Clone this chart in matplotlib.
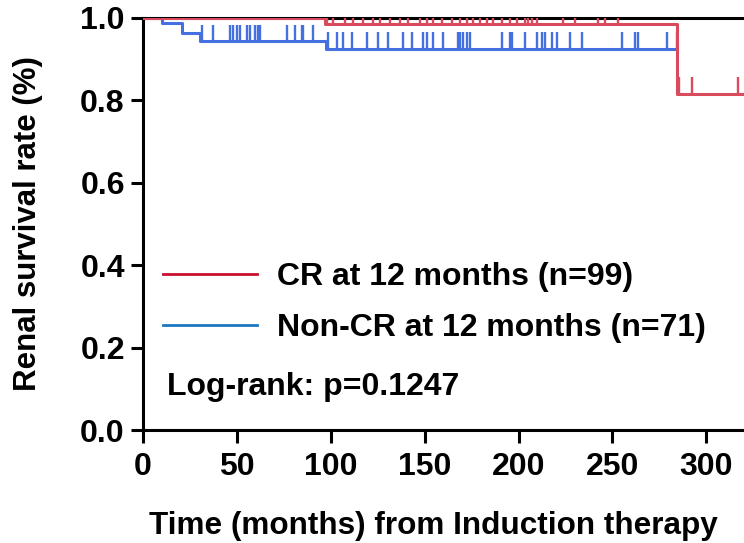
import matplotlib.pyplot as plt
from matplotlib.lines import Line2D

plt.rcParams['font.family'] = ['Liberation Sans', 'DejaVu Sans']
plt.rcParams['font.weight'] = 'bold'

# step curves: time where each level starts, and the survival level
cr_times = [0, 97, 284.5]
cr_levels = [1.0, 0.985, 0.816]
cr_end = 320

noncr_times = [0, 10, 21, 30.5, 97.5]
noncr_levels = [1.0, 0.988, 0.963, 0.944, 0.925]
noncr_end = 284.5

# censored observations (months)
cr_censor = [98, 101.2, 107.6, 111.9, 117.2, 122.5, 126.3, 131.6, 136.9, 141.2,
             147.6, 151.3, 154.5, 159.3, 164.6, 168.9, 172.6, 175.8, 179.5, 183.3,
             186.5, 191.3, 195.5, 199.3, 203.5, 205.1, 207.2, 209.9, 223.8, 230.2,
             242.4, 246.1, 253.1, 285.5, 292.5, 317]
noncr_censor = [31.4, 37.3, 46.4, 47.9, 50.1, 51.7, 55.4, 57.0, 59.7, 61.3, 62.3,
                76.7, 81.0, 84.7, 85.2, 90.6, 98.6, 103.4, 106.6, 111.3, 119.3,
                125.2, 130.5, 138.5, 143.3, 149.2, 151.3, 154.5, 159.8, 167.8,
                168.9, 170.5, 172.6, 174.2, 191.3, 195.5, 196.6, 203.5, 209.9,
                212.6, 214.2, 217.9, 220.6, 227.5, 233.9, 255.2, 262.1, 263.7,
                279.1, 284.5]

red = '#d94a5c'
blue = '#4470e0'


def level_at(times, levels, t):
    lv = levels[0]
    for ti, li in zip(times, levels):
        if t >= ti:
            lv = li
    return lv


def draw_km(ax, times, levels, end, censor, color):
    xs = list(times) + [end]
    ys = list(levels) + [levels[-1]]
    ax.step(xs, ys, where='post', color=color, lw=2.2, zorder=3)
    for t in censor:
        y = level_at(times, levels, t)
        ax.vlines(t, y, y + 0.04, color=color, lw=1.7, zorder=3)


fig = plt.figure(figsize=(7.44, 5.43), dpi=100)
ax = fig.add_axes([0.192, 0.208, 0.808, 0.759])

draw_km(ax, noncr_times, noncr_levels, noncr_end, noncr_censor, blue)
draw_km(ax, cr_times, cr_levels, cr_end, cr_censor, red)

ax.set_xlim(0, 320)
ax.set_ylim(0, 1.0)
ax.set_xticks([0, 50, 100, 150, 200, 250, 300])
ax.set_yticks([0.0, 0.2, 0.4, 0.6, 0.8, 1.0])
ax.set_yticklabels(['0.0', '0.2', '0.4', '0.6', '0.8', '1.0'])
ax.spines['right'].set_visible(False)
for s in ['left', 'bottom', 'top']:
    ax.spines[s].set_linewidth(2.2)
ax.tick_params(width=2.2, length=9, labelsize=23, pad=4)
ax.tick_params(axis='x', pad=7)

ax.set_xlabel('Time (months) from Induction therapy', fontsize=22.7,
              fontweight='bold', labelpad=21)
ax.xaxis.label.set_x(0.484)
ax.set_ylabel('Renal survival rate (%)', fontsize=22.5, fontweight='bold',
              labelpad=27)

handles = [Line2D([], [], color='#c8102e', lw=2),
           Line2D([], [], color='#1a78c2', lw=2)]
ax.legend(handles, ['CR at 12 months (n=99)', 'Non-CR at 12 months (n=71)'],
          loc='center left', bbox_to_anchor=(-0.015, 0.31), frameon=False,
          fontsize=23, handlelength=2.95, handletextpad=0.62, labelspacing=0.66)
ax.text(0.04, 0.105, 'Log-rank: p=0.1247', transform=ax.transAxes,
        fontsize=23, fontweight='bold', va='center', ha='left')

fig.savefig('out.png', dpi=100)
